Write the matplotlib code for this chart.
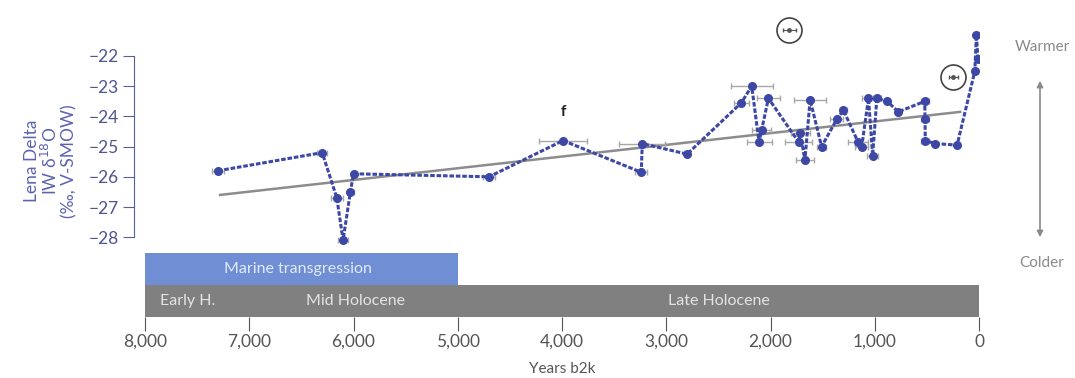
import numpy as np
import matplotlib
matplotlib.use("Agg")
from matplotlib import pyplot as plt

# Lena Delta IW d18O record, years b2k
years = [7300, 6300, 6160, 6100, 6030, 6000, 4700, 3990, 3240, 3230, 2800,
         2280, 2180, 2110, 2085, 2020, 1730, 1715, 1670, 1620, 1510, 1365,
         1300, 1160, 1125, 1060, 1020, 980, 880, 775, 520, 518, 515, 420,
         210, 40, 25, 10]
d18o = [-25.8, -25.2, -26.7, -28.1, -26.5, -25.9, -26.0, -24.8, -25.85, -24.9,
        -25.25, -23.55, -23.0, -24.85, -24.45, -23.4, -24.85, -24.55, -25.45,
        -23.45, -25.0, -24.1, -23.8, -24.85, -25.0, -23.4, -25.3, -23.4, -23.5,
        -23.85, -23.5, -24.1, -24.8, -24.9, -24.95, -22.5, -21.3, -22.1]
age_err = [60, 50, 60, 50, 30, 0, 60, 230, 60, 220, 0,
           70, 200, 120, 90, 110, 130, 90, 90, 150, 40, 60,
           30, 100, 60, 60, 50, 40, 0, 0, 40, 40, 40, 0,
           0, 0, 0, 0]

# excluded (circled) samples
out_years = [1820, 245]
out_d18o = [-21.15, -22.7]
out_err = [60, 40]

# linear trend
trend_years = [7280, 180]
trend_vals = [-26.6, -23.85]

# timeline bars
marine = (8000, 5000)
periods = ["Early H.", "Mid Holocene", "Late Holocene"]
period_pos = [7590, 5985, 2500]

xticks = [8000, 7000, 6000, 5000, 4000, 3000, 2000, 1000, 0]
yticks = [-22, -23, -24, -25, -26, -27, -28]

plt.rcParams['font.family'] = ['Lato', 'DejaVu Sans']

W, H = 1075, 378
fig = plt.figure(figsize=(W / 100, H / 100), dpi=100)
ax = fig.add_axes([145 / W, (H - 317) / H, 834 / W, 312 / H])

ppu = 30.2  # pixels per permil
ax.set_xlim(8000, 0)
ax.set_ylim(-22 - (317 - 56) / ppu, -22 + (56 - 5) / ppu)

blue = "#3d48a6"
ax.plot(trend_years, trend_vals, color="#8c8c8c", lw=1.8, zorder=2)
ax.errorbar(years, d18o, xerr=age_err, fmt="none", ecolor="#a8a8a8",
            elinewidth=1, capsize=2, zorder=3)
ax.plot(years, d18o, color=blue, lw=2.2, ls=(0, (1.5, 0.6)), marker="o",
        ms=5.5, mfc=blue, mec=blue, zorder=4)

ax.errorbar(out_years, out_d18o, xerr=out_err, fmt="o", ms=2.5, color="#555555",
            elinewidth=0.8, capsize=1.5, zorder=4)
ax.plot(out_years, out_d18o, "o", ms=18, mfc="none", mec="#444444", mew=1.2,
        zorder=4)

ax.text(3990, -23.85, "f", ha="center", va="center", fontsize=11,
        fontweight="bold", color="#222222")

# timeline bars
yb_top = -22 - (253 - 56) / ppu
yb_mid = -22 - (285 - 56) / ppu
yb_bot = -22 - (317 - 56) / ppu
ax.barh((yb_top + yb_mid) / 2, marine[0] - marine[1], left=marine[1],
        height=yb_top - yb_mid, color="#6f8ed3", zorder=1)
ax.barh((yb_mid + yb_bot) / 2, 8000, left=0, height=yb_mid - yb_bot,
        color="#808080", zorder=1)
ax.text(6530, (yb_top + yb_mid) / 2, "Marine transgression", ha="center",
        va="center", fontsize=11.5, color="#e2eafb")
for name, xp in zip(periods, period_pos):
    ax.text(xp, (yb_mid + yb_bot) / 2, name, ha="center", va="center",
            fontsize=11.5, color="#e4e4e4")

# axes styling
for s in ["top", "right", "bottom"]:
    ax.spines[s].set_visible(False)
ax.spines["left"].set_position(("outward", 8))
ax.spines["left"].set_bounds(-28, -22)
ax.spines["left"].set_color("#5a5f9a")
ax.set_yticks(yticks)
ax.set_yticklabels([f"\u2212{abs(v)}" for v in yticks])
ax.tick_params(axis="y", direction="out", length=8, color="#5a5f9a",
               labelcolor="#4f5494", labelsize=12.5, pad=3)
ax.set_xticks(xticks)
ax.set_xticklabels([f"{v:,}" for v in xticks])
ax.tick_params(axis="x", direction="out", length=10, color="#555555",
               labelcolor="#555555", labelsize=12.5, pad=2)
ax.set_xlabel("Years b2k", fontsize=11, color="#555555", labelpad=9)
ax.set_ylabel("Lena Delta\nIW \u03b4$^{18}$O\n(\u2030, V-SMOW)", fontsize=12.5,
              color="#5b63b0", linespacing=1.05, labelpad=8)
ax.patch.set_alpha(0)

# warmer / colder indicator
fig.text(1042 / W, 1 - 47 / H, "Warmer", ha="center", va="center",
         fontsize=11, color="#8a8a8a")
fig.text(1042 / W, 1 - 263 / H, "Colder", ha="center", va="center",
         fontsize=11, color="#8a8a8a")
fig.add_artist(matplotlib.patches.FancyArrowPatch(
    (1040 / W, 1 - 78 / H), (1040 / W, 1 - 240 / H), transform=fig.transFigure,
    arrowstyle="<|-|>", mutation_scale=9, color="#8a8a8a", lw=1.2))

fig.savefig("out.png", dpi=100)
